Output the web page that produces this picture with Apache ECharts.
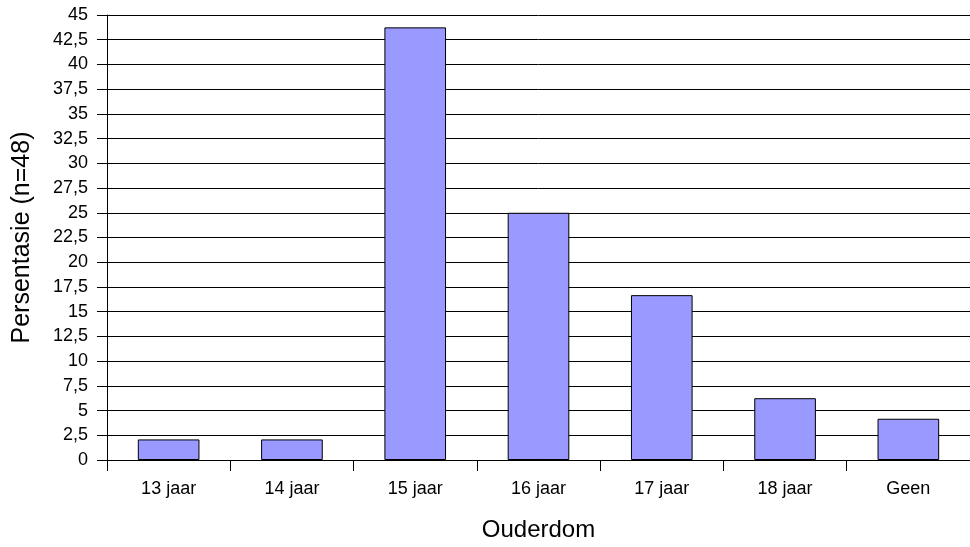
<!DOCTYPE html>
<html>
<head>
<meta charset="utf-8">
<script src="https://cdn.jsdelivr.net/npm/echarts@6/dist/echarts.min.js"></script>
<style>
  html, body { margin: 0; padding: 0; background: #fff; }
  #chart { width: 970px; height: 547px; }
</style>
</head>
<body>
<div id="chart"></div>
<script>
// data
const categories = ['13 jaar', '14 jaar', '15 jaar', '16 jaar', '17 jaar', '18 jaar', 'Geen'];
const percentages = [2.08, 2.08, 43.75, 25, 16.67, 6.25, 4.17];

const chart = echarts.init(document.getElementById('chart'));
const font = 'Liberation Sans, Arial, sans-serif';

chart.setOption({
    animation: false,
    grid: { left: 107, right: -8, top: 15, bottom: 84, containLabel: false },
    xAxis: {
        type: 'category',
        data: categories,
        name: 'Ouderdom',
        nameLocation: 'middle',
        nameGap: 58,
        nameTextStyle: { fontFamily: font, fontSize: 24, color: '#000' },
        axisLine: { lineStyle: { color: '#000', width: 1 } },
        axisTick: { show: true, length: 11, lineStyle: { color: '#000' } },
        axisLabel: { fontFamily: font, fontSize: 18, color: '#000', margin: 20 }
    },
    yAxis: {
        type: 'value',
        min: 0,
        max: 45,
        interval: 2.5,
        name: 'Persentasie (n=48)',
        nameLocation: 'middle',
        nameGap: 72,
        nameTextStyle: { fontFamily: font, fontSize: 25, color: '#000' },
        axisLine: { show: true, lineStyle: { color: '#000', width: 1 } },
        axisTick: { show: true, length: 10, lineStyle: { color: '#000' } },
        axisLabel: {
            fontFamily: font, fontSize: 18, color: '#000', margin: 19,
            formatter: v => String(v).replace('.', ',')
        },
        splitLine: { show: true, lineStyle: { color: '#000', width: 1 } }
    },
    series: [{
        type: 'bar',
        data: percentages,
        barCategoryGap: '50%',
        itemStyle: { color: '#9999FF', borderColor: '#000', borderWidth: 1 }
    }]
});
</script>
</body>
</html>
